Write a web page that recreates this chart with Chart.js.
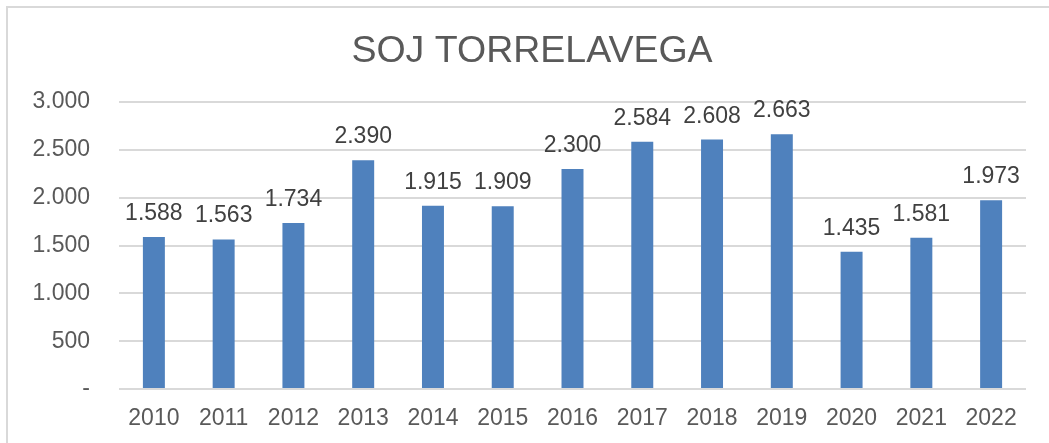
<!DOCTYPE html>
<html>
<head>
<meta charset="utf-8">
<script src="https://cdn.jsdelivr.net/npm/chart.js@4/dist/chart.umd.min.js"></script>
<style>
  html, body { margin: 0; padding: 0; background: #fff; overflow: hidden; }
  #box {
    position: absolute; left: 6px; top: 6px;
    width: 1048px; height: 440px;
    border: 2px solid #d9d9d9; background: #fff;
  }
  #box canvas { display: block; }
</style>
</head>
<body>
<div id="box"><canvas id="sojChart" width="1048" height="440"></canvas></div>
<script>
// data
const years = ['2010', '2011', '2012', '2013', '2014', '2015', '2016', '2017', '2018', '2019', '2020', '2021', '2022'];
const totals = [1588, 1563, 1734, 2390, 1915, 1909, 2300, 2584, 2608, 2663, 1435, 1581, 1973];
const chartTitle = 'SOJ TORRELAVEGA';

// 1588 -> "1.588", 0 -> "-"
function fmt(v) {
    if (v === 0) return '-';
    return String(v).replace(/\B(?=(\d{3})+(?!\d))/g, '.');
}

// draws the value above each bar
const valueLabels = {
    id: 'valueLabels',
    afterDatasetsDraw(chart) {
        const ctx = chart.ctx;
        const meta = chart.getDatasetMeta(0);
        ctx.save();
        ctx.font = '23px "Liberation Sans", Arial, sans-serif';
        ctx.fillStyle = '#404040';
        ctx.textAlign = 'center';
        ctx.textBaseline = 'alphabetic';
        meta.data.forEach((bar, i) => {
            ctx.fillText(fmt(totals[i]), bar.x, bar.y - 17);
        });
        ctx.restore();
    }
};

Chart.defaults.font.family = '"Liberation Sans", Arial, sans-serif';
Chart.defaults.color = '#595959';

new Chart(document.getElementById('sojChart'), {
    type: 'bar',
    data: {
        labels: years,
        datasets: [{
            data: totals,
            backgroundColor: '#4f81bd',
            categoryPercentage: 1,
            barPercentage: 0.315
        }]
    },
    options: {
        responsive: false,
        animation: false,
        layout: { padding: 0 },
        plugins: {
            legend: { display: false },
            tooltip: { enabled: false },
            title: {
                display: true,
                text: chartTitle,
                color: '#595959',
                font: { size: 37.5, weight: 'normal' },
                padding: { top: 21, bottom: 28 }
            }
        },
        scales: {
            x: {
                grid: { display: false, drawTicks: false },
                border: { display: false },
                ticks: { font: { size: 23 }, color: '#595959', padding: 16 },
                afterFit(axis) { axis.height = 59; }
            },
            y: {
                min: 0,
                max: 3000,
                grid: { color: '#d9d9d9', lineWidth: 2, drawTicks: false },
                border: { display: false },
                ticks: {
                    stepSize: 500,
                    font: { size: 23 },
                    color: '#595959',
                    padding: 29,
                    callback: (v) => fmt(v)
                },
                afterFit(axis) { axis.width = 111; }
            },
            // empty right margin so the title stays centred on the whole box
            spacer: {
                position: 'right',
                grid: { display: false, drawTicks: false },
                border: { display: false },
                ticks: { display: false },
                afterFit(axis) { axis.width = 30; }
            }
        }
    },
    plugins: [valueLabels]
});
</script>
</body>
</html>
